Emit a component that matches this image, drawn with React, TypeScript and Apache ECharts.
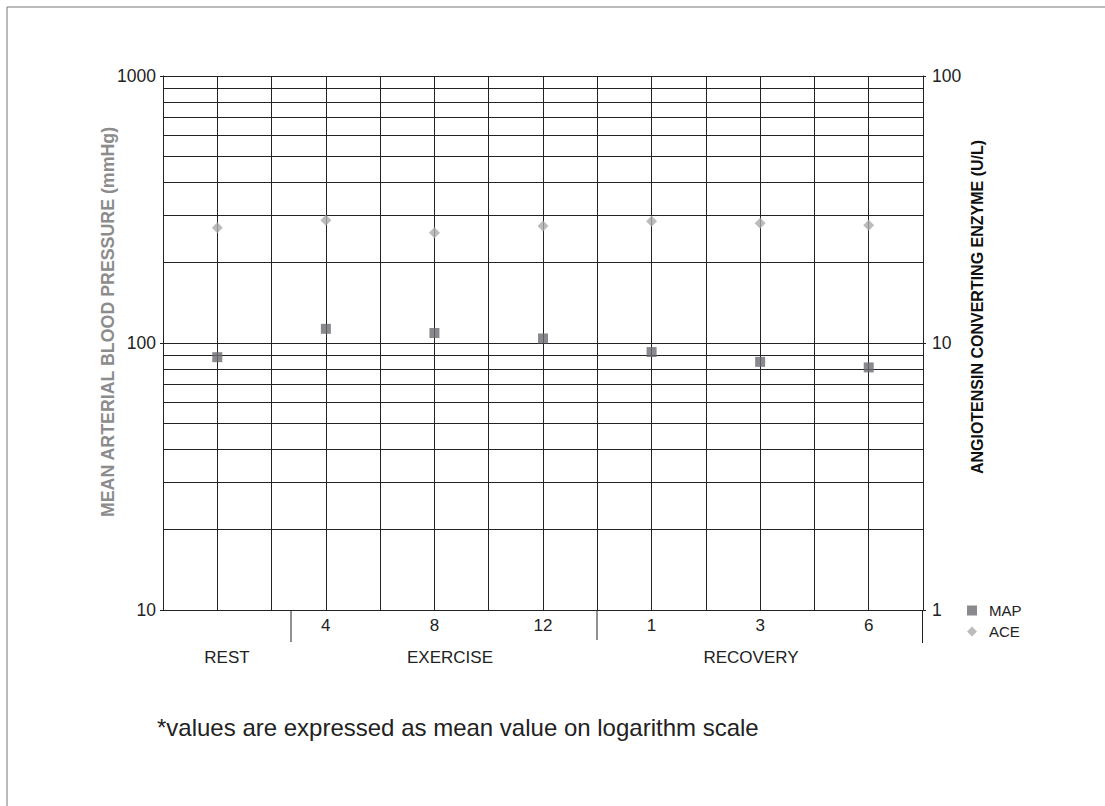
import React, { useEffect, useRef } from "react";
import * as echarts from "echarts";

const timeLabels = ["", "4", "8", "12", "1", "3", "6"];
const phaseLabels = ["REST", "EXERCISE", "RECOVERY"];
const mapValues = [88.5, 113, 109, 104, 92.5, 85, 81];
const aceValues = [27.0, 28.8, 25.9, 27.4, 28.6, 28.1, 27.6];
const subSlots = ["", "", "", "", "", "", "", "", "", "", "", "", "", ""];
const minorGridValues = [20, 30, 40, 50, 60, 70, 80, 90, 200, 300, 400, 500, 600, 700, 800, 900];
const leftTitle = "MEAN ARTERIAL BLOOD PRESSURE (mmHg)";
const rightTitle = "ANGIOTENSIN CONVERTING ENZYME (U/L)";
const footnote = "*values are expressed as mean value on logarithm scale";

const FONT = "'Liberation Sans', Arial, Helvetica, sans-serif";
const LINE = "#222";

export default function App() {
  const ref = useRef<HTMLDivElement>(null);
  useEffect(() => {
    if (!ref.current) return;
    const chart = echarts.init(ref.current, null, { renderer: "svg" });
    const phaseX = [227, 450, 751];
    chart.setOption({
      animation: false,
      backgroundColor: "#fff",
      textStyle: { fontFamily: FONT },
      grid: { left: 163, right: 182, top: 76, bottom: 196, containLabel: false },
      legend: {
        orient: "vertical",
        left: 962,
        top: 598,
        itemWidth: 10,
        itemHeight: 10,
        itemGap: 6,
        textStyle: { fontSize: 15, color: "#222", fontFamily: FONT, padding: [0, 0, 0, 7] },
        data: [
          { name: "MAP", icon: "rect" },
          { name: "ACE", icon: "diamond" },
        ],
      },
      xAxis: [
        {
          type: "category",
          data: timeLabels,
          boundaryGap: true,
          position: "bottom",
          axisLine: { show: true, lineStyle: { color: LINE, width: 1 } },
          axisTick: { show: false },
          axisLabel: { fontSize: 17, color: "#222", margin: 7, interval: 0 },
          splitLine: { show: true, lineStyle: { color: LINE, width: 1 } },
        },
        {
          type: "category",
          data: subSlots,
          boundaryGap: true,
          position: "top",
          axisLine: { show: false },
          axisTick: { show: false },
          axisLabel: { show: false },
          splitLine: { show: true, interval: 0, lineStyle: { color: LINE, width: 1 } },
        },
      ],
      yAxis: [
        {
          type: "log",
          logBase: 10,
          min: 10,
          max: 1000,
          position: "left",
          axisLine: { show: true, lineStyle: { color: LINE, width: 1 } },
          axisTick: { show: true, length: 3, lineStyle: { color: LINE } },
          axisLabel: { fontSize: 17.5, color: "#222", margin: 7, formatter: (v: number) => String(Math.round(v)) },
          splitLine: { show: true, lineStyle: { color: LINE, width: 1 } },
        },
        {
          type: "log",
          logBase: 10,
          min: 1,
          max: 100,
          position: "right",
          axisLine: { show: true, lineStyle: { color: LINE, width: 1 } },
          axisTick: { show: true, length: 3, lineStyle: { color: LINE } },
          axisLabel: { fontSize: 17.5, color: "#222", margin: 9, formatter: (v: number) => String(Math.round(v)) },
          splitLine: { show: false },
        },
      ],
      series: [
        {
          name: "grid",
          type: "line",
          data: [],
          z: 1,
          silent: true,
          markLine: {
            silent: true,
            symbol: ["none", "none"],
            label: { show: false },
            lineStyle: { color: LINE, width: 1, type: "solid" },
            data: minorGridValues.map((v) => ({ yAxis: v })),
          },
        },
        {
          name: "MAP",
          type: "scatter",
          yAxisIndex: 0,
          symbol: "rect",
          symbolSize: 10,
          z: 5,
          itemStyle: { color: "#6c6c72" },
          data: mapValues,
        },
        {
          name: "ACE",
          type: "scatter",
          yAxisIndex: 1,
          symbol: "diamond",
          symbolSize: 11,
          z: 5,
          itemStyle: { color: "#ababab" },
          data: aceValues,
        },
      ],
      graphic: [
        { type: "line", shape: { x1: 7, y1: 7, x2: 1105, y2: 7 }, style: { stroke: "#777", lineWidth: 1 } },
        { type: "line", shape: { x1: 7, y1: 7, x2: 7, y2: 806 }, style: { stroke: "#777", lineWidth: 1 } },
        { type: "line", shape: { x1: 291, y1: 611, x2: 291, y2: 642 }, style: { stroke: LINE, lineWidth: 1 } },
        { type: "line", shape: { x1: 597, y1: 611, x2: 597, y2: 640 }, style: { stroke: LINE, lineWidth: 1 } },
        { type: "line", shape: { x1: 922.5, y1: 611, x2: 922.5, y2: 643 }, style: { stroke: LINE, lineWidth: 1 } },
        ...phaseLabels.map((t, i) => ({
          type: "text",
          x: phaseX[i],
          y: 657,
          style: { text: t, fontSize: 17, fill: "#222", align: "center", verticalAlign: "middle", fontFamily: FONT },
        })),
        {
          type: "text",
          x: 108,
          y: 322,
          rotation: Math.PI / 2,
          style: { text: leftTitle, fontSize: 17.8, fontWeight: "bold", fill: "#8c8c8c", align: "center", verticalAlign: "middle", fontFamily: FONT },
        },
        {
          type: "text",
          x: 977,
          y: 307,
          rotation: Math.PI / 2,
          style: { text: rightTitle, fontSize: 16, fontWeight: "bold", fill: "#111", align: "center", verticalAlign: "middle", fontFamily: FONT },
        },
        {
          type: "text",
          x: 157,
          y: 727,
          style: { text: footnote, fontSize: 24, fill: "#222", align: "left", verticalAlign: "middle", fontFamily: FONT },
        },
      ],
    });
    return () => chart.dispose();
  }, []);
  return <div ref={ref} style={{ position: "absolute", left: 0, top: 0, width: 1105, height: 806 }} />;
}
